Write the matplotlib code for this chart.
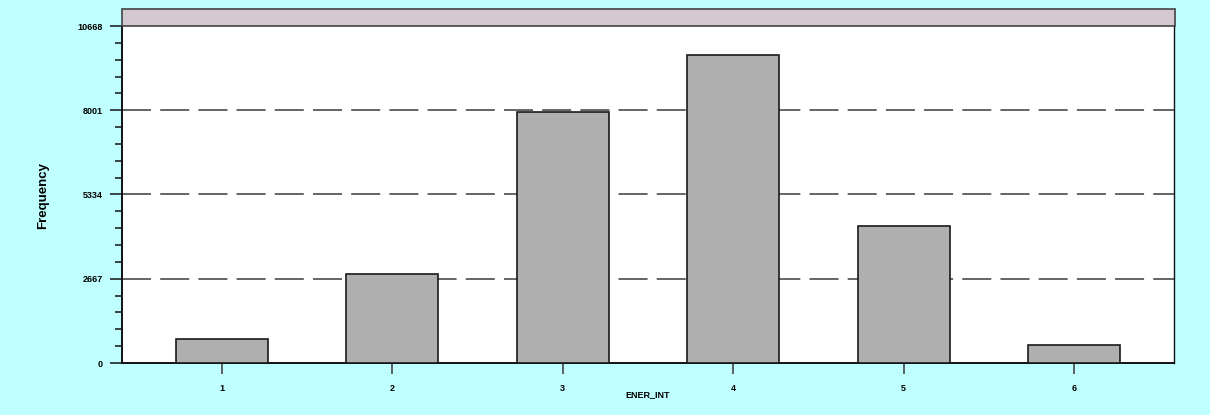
import matplotlib
matplotlib.use("Agg")
import matplotlib.pyplot as plt
from matplotlib.patches import Rectangle
from matplotlib.ticker import FixedLocator, MultipleLocator

categories = [1, 2, 3, 4, 5, 6]
frequencies = [760, 2820, 7960, 9750, 4340, 570]
y_ticks = [0, 2667, 5334, 8001, 10668]
y_tick_labels = ["0", "2667", "5334", "8001", "10668"]
title = "Histogram for Variable ENER_INT"

W, H = 1210, 415
fig = plt.figure(figsize=(W / 100, H / 100), dpi=100)
fig.patch.set_facecolor("#C0FFFF")

left, right, top, bottom = 122, 1174, 26, 363
ax = fig.add_axes([left / W, 1 - bottom / H, (right - left) / W, (bottom - top) / H])
ax.set_facecolor("white")

ax.bar(categories, frequencies, width=0.54, color="#AFAFAF", edgecolor="#1a1a1a",
       linewidth=1.2, zorder=3)

ax.set_xlim(0.414, 6.586)
ax.set_ylim(0, 10668)

for v in y_ticks[1:-1]:
    ax.axhline(v, color="#3a3a3a", linewidth=1.1, dashes=(19, 6), zorder=2)

ax.yaxis.set_major_locator(FixedLocator(y_ticks))
ax.set_yticklabels(y_tick_labels)
ax.yaxis.set_minor_locator(MultipleLocator(2667 / 5))
ax.set_xticks(categories)
ax.set_xticklabels([str(c) for c in categories])

fp = dict(family="Liberation Sans", weight="bold", size=6.5)
for lab in ax.get_xticklabels() + ax.get_yticklabels():
    lab.set_fontfamily("Liberation Sans")
    lab.set_fontweight("bold")
    lab.set_fontsize(6.5)

ax.tick_params(axis="y", which="major", length=9, width=1.2, color="#222222", pad=5)
ax.tick_params(axis="y", which="minor", length=5, width=1.2, color="#222222")
ax.tick_params(axis="x", which="major", length=8, width=1.2, color="#444444", pad=7)

for s in ["left", "bottom"]:
    ax.spines[s].set_linewidth(1.4)
    ax.spines[s].set_color("#111111")
ax.spines["top"].set_visible(False)
ax.spines["right"].set_linewidth(1.0)
ax.spines["right"].set_color("#111111")

# title band
band = Rectangle((left / W, 1 - top / H), (right + 1 - left) / W, 17 / H,
                 transform=fig.transFigure, facecolor="#D5C9D1", edgecolor="#444444",
                 linewidth=1.2, zorder=5)
fig.patches.append(band)
fig.text((left + right) / 2 / W, 1 - 17.5 / H, title, ha="center", va="center",
         family="Liberation Sans", weight="bold", size=7)

fig.text(648 / W, 1 - 395 / H, "ENER_INT", ha="center", va="center",
         family="Liberation Sans", weight="bold", size=6.5)
fig.text(43 / W, 1 - 195 / H, "Frequency", ha="center", va="center", rotation=90,
         family="Liberation Sans", weight="bold", size=9.5)

fig.savefig("out.png", dpi=100, facecolor=fig.get_facecolor())
